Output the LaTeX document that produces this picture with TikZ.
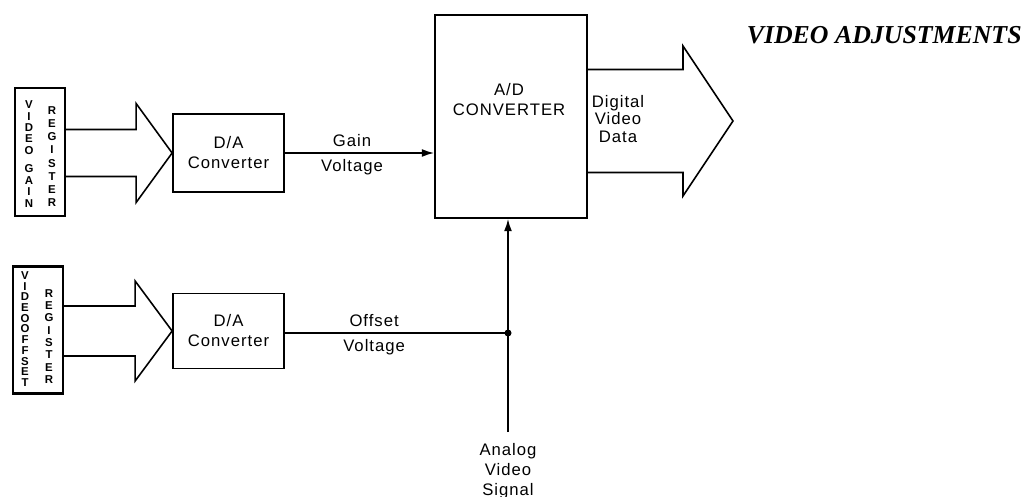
\documentclass[tikz,border=0pt]{standalone}
\usepackage{fontspec}
\setsansfont{Liberation Sans}[LetterSpace=6]
\newfontfamily\titlefont{Liberation Serif}
\usetikzlibrary{arrows.meta, calc, positioning}

% wide bus arrow: start edge, tip, half shaft, half head, head length
\newcommand{\busarrow}[5]{%
  \draw[bus] ($(#1 |- #2)+(0,#3)$) -- ($(#2)+(-#5,#3)$) -- ($(#2)+(-#5,#4)$)
    -- (#2) -- ($(#2)+(-#5,-#4)$) -- ($(#2)+(-#5,-#3)$) -- ($(#1 |- #2)+(0,-#3)$);}

\begin{document}
\begin{tikzpicture}[x=0.02cm, y=-0.02cm,
    regbox/.style={draw, line width=1.2pt, minimum width=1cm, inner sep=0pt},
    stack/.style={align=center, inner sep=0pt,
                  font=\sffamily\bfseries\fontsize{6.5}{#1}\selectfont},
    dabox/.style={draw, line width=1pt, minimum width=2.22cm, align=center,
                  font=\sffamily\fontsize{9.5}{11.4}\selectfont},
    txt/.style={align=center, font=\sffamily\fontsize{9.5}{11.4}\selectfont},
    bus/.style={line width=0.9pt, line join=miter},
    sig/.style={line width=0.9pt, -{Latex[length=7pt, width=4.5pt]}}
  ]
    \useasboundingbox (0,0) rectangle (1029,497);

    \node[anchor=east, inner sep=0pt,
          font=\titlefont\bfseries\itshape\fontsize{14.7}{16}\selectfont]
      (title) at (1022,35) {VIDEO ADJUSTMENTS};

    % registers
    \node[regbox, minimum height=2.56cm] (reg1) at (40,152) {};
    \node[stack=6.5] (reg1a) at (29,154) {V\\I\\D\\E\\O\\[4pt]G\\A\\I\\N};
    \node[stack=7.5] (reg1b) at (52,156.5) {R\\E\\G\\I\\S\\T\\E\\R};
    \node[regbox, minimum height=2.54cm] (reg2) at (38,330) {};
    \node[stack=6.1] (reg2a) at (25,329) {V\\I\\D\\E\\O\\O\\F\\F\\S\\E\\T};
    \node[stack=7] (reg2b) at (49,336.5) {R\\E\\G\\I\\S\\T\\E\\R};

    % converters
    \node[dabox, minimum height=1.56cm] (da1) at (228.5,153) {D/A\\Converter};
    \node[dabox, minimum height=1.5cm] (da2) at (228.5,331) {D/A\\Converter};
    \node[draw, line width=1pt, minimum width=3.04cm, minimum height=4.06cm]
      (adc) at (511,116.5) {};
    \node[txt, font=\sffamily\fontsize{9.5}{11.4}\selectfont] (adclbl) at (509,100)
      {A/D\\CONVERTER};

    \busarrow{reg1.east}{da1.west}{23.5}{49.5}{36}
    \busarrow{reg2.east}{da2.west}{25}{50}{37}

    % digital output
    \coordinate (dvdtip) at (733,121);
    \busarrow{adc.east}{dvdtip}{51.5}{75}{50}
    \node[txt, font=\sffamily\fontsize{9.5}{10}\selectfont] (dvd) at (618,119)
      {Digital\\Video\\Data};

    % gain and offset voltages
    \draw[sig] (da1.east) -- (adc.west |- da1.east)
      node[txt, above, pos=.45] (gain) {Gain}
      node[txt, below, pos=.45] (gainv) {Voltage};

    \coordinate (jn) at (508,333);
    \coordinate (avs) at (508,432);
    \draw[line width=0.9pt] (da2.east |- jn) -- (jn)
      node[txt, above, pos=.4] (offs) {Offset}
      node[txt, below, pos=.4] (offsv) {Voltage};
    \draw[sig] (avs) -- (jn |- adc.south);
    \fill (jn) circle (2pt);
    \node[txt, below=3pt of avs] (avslbl) {Analog\\Video\\Signal};
  \end{tikzpicture}
\end{document}
